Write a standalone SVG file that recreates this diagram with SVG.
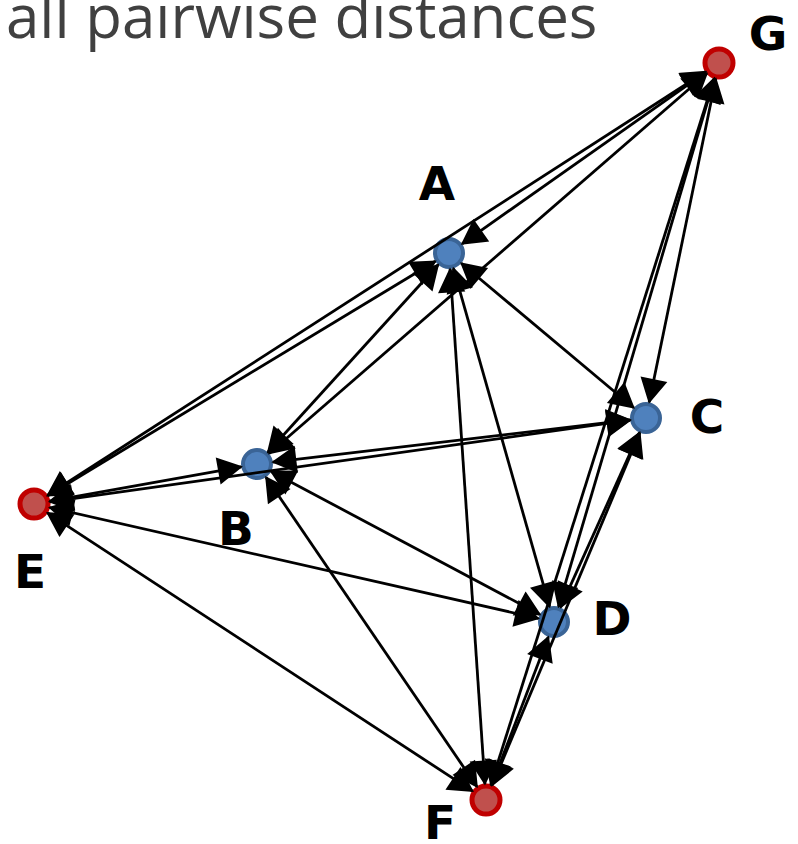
<svg xmlns="http://www.w3.org/2000/svg" width="798" height="844" viewBox="0 0 798 844">
  <style>
    .title { font-family: "Open Sans", "Liberation Sans", sans-serif; font-size: 60px; fill: #404040; }
    .label { font-family: "DejaVu Sans", "Open Sans", sans-serif; font-size: 47px; font-weight: bold; fill: #000000; text-anchor: middle; }
    .blue { fill: #4f81bd; stroke: #3a6496; stroke-width: 4; }
    .red { fill: #c0504d; stroke: #c00000; stroke-width: 5; }
    .edge { stroke: #000000; stroke-width: 2.8; fill: none; marker-start: url(#head); marker-end: url(#head); }
  </style>
  <defs>
    <!-- filled triangular head, tip on the node rim -->
    <marker id="head" markerUnits="userSpaceOnUse" viewBox="-2 -2 28 28" markerWidth="28" markerHeight="28" refX="23.5" refY="12" orient="auto-start-reverse">
      <path d="M1,0 L23,12 L1,24 z" fill="#000000" stroke="#000000" stroke-width="2" stroke-linejoin="miter"/>
    </marker>
  </defs>

  <rect width="798" height="844" fill="#ffffff"/>

  <text class="title" x="6" y="38">all pairwise distances</text>

  <!-- nodes -->
  <g id="node-G"><circle class="red" cx="719" cy="63" r="14"/><text class="label" x="768" y="50">G</text></g>
  <g id="node-A"><circle class="blue" cx="449" cy="253" r="14"/><text class="label" x="437" y="200">A</text></g>
  <g id="node-C"><circle class="blue" cx="646" cy="418" r="14"/><text class="label" x="707" y="433">C</text></g>
  <g id="node-B"><circle class="blue" cx="257" cy="464" r="14"/><text class="label" x="236" y="545">B</text></g>
  <g id="node-E"><circle class="red" cx="34" cy="504" r="14"/><text class="label" x="30" y="588">E</text></g>
  <g id="node-D"><circle class="blue" cx="554" cy="622" r="14"/><text class="label" x="612" y="635">D</text></g>
  <g id="node-F"><circle class="red" cx="486" cy="800" r="14"/><text class="label" x="440" y="839">F</text></g>

  <!-- connectors: every pair, arrowheads at both ends -->
  <g id="edges">
    <line class="edge" x1="705.9" y1="72.2" x2="462.1" y2="243.8"/>
    <line class="edge" x1="715.8" y1="78.7" x2="649.2" y2="402.3"/>
    <line class="edge" x1="706.9" y1="73.5" x2="269.1" y2="453.5"/>
    <line class="edge" x1="705.5" y1="71.7" x2="47.5" y2="495.3"/>
    <line class="edge" x1="714.5" y1="78.3" x2="558.5" y2="606.7"/>
    <line class="edge" x1="714.2" y1="78.3" x2="490.8" y2="784.7"/>
    <line class="edge" x1="461.3" y1="263.3" x2="633.7" y2="407.7"/>
    <line class="edge" x1="438.2" y1="264.8" x2="267.8" y2="452.2"/>
    <line class="edge" x1="435.3" y1="261.3" x2="47.7" y2="495.7"/>
    <line class="edge" x1="453.4" y1="268.4" x2="549.6" y2="606.6"/>
    <line class="edge" x1="450.1" y1="269.0" x2="484.9" y2="784.0"/>
    <line class="edge" x1="630.1" y1="419.9" x2="272.9" y2="462.1"/>
    <line class="edge" x1="630.2" y1="420.2" x2="49.8" y2="501.8"/>
    <line class="edge" x1="639.4" y1="432.6" x2="560.6" y2="607.4"/>
    <line class="edge" x1="639.8" y1="432.8" x2="492.2" y2="785.2"/>
    <line class="edge" x1="241.3" y1="466.8" x2="49.7" y2="501.2"/>
    <line class="edge" x1="271.1" y1="471.5" x2="539.9" y2="614.5"/>
    <line class="edge" x1="266.0" y1="477.2" x2="477.0" y2="786.8"/>
    <line class="edge" x1="49.6" y1="507.5" x2="538.4" y2="618.5"/>
    <line class="edge" x1="47.4" y1="512.8" x2="472.6" y2="791.2"/>
    <line class="edge" x1="548.3" y1="637.0" x2="491.7" y2="785.1"/>
  </g>
</svg>
